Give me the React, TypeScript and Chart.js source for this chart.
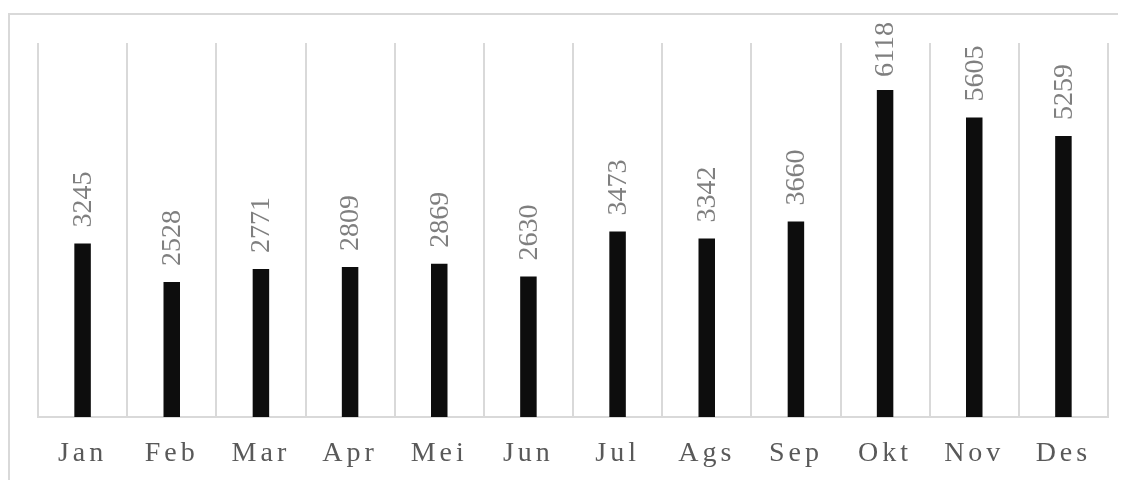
import React, { useEffect, useRef } from "react";
import { Chart, registerables } from "chart.js";

Chart.register(...registerables);

const months = ["Jan", "Feb", "Mar", "Apr", "Mei", "Jun", "Jul", "Ags", "Sep", "Okt", "Nov", "Des"];
const values = [3245, 2528, 2771, 2809, 2869, 2630, 3473, 3342, 3660, 6118, 5605, 5259];
const yMax = 7000;

const FONT = "'Liberation Serif', 'Times New Roman', serif";

const frame = {
  id: "frame",
  beforeDraw(chart: any) {
    const ctx = chart.ctx;
    ctx.save();
    ctx.strokeStyle = "#d9d9d9";
    ctx.lineWidth = 2;
    ctx.beginPath();
    ctx.moveTo(0, 6);
    ctx.lineTo(chart.width, 6);
    ctx.moveTo(1, 6);
    ctx.lineTo(1, chart.height);
    ctx.stroke();
    ctx.restore();
    ctx.letterSpacing = "4px";
  },
  beforeDatasetsDraw(chart: any) {
    chart.ctx.letterSpacing = "0px";
  },
  afterDatasetsDraw(chart: any) {
    const ctx = chart.ctx;
    const meta = chart.getDatasetMeta(0);
    ctx.save();
    ctx.letterSpacing = "0px";
    ctx.font = `28px ${FONT}`;
    ctx.fillStyle = "#7f7f7f";
    ctx.textAlign = "left";
    ctx.textBaseline = "middle";
    meta.data.forEach((bar: any, i: number) => {
      const txt = String(values[i]);
      const w = ctx.measureText(txt).width;
      let y = bar.y - 16;
      if (y - w < 14) y = 14 + w;
      ctx.save();
      ctx.translate(bar.x + 1, y);
      ctx.rotate(-Math.PI / 2);
      ctx.fillText(txt, 0, 0);
      ctx.restore();
    });
    ctx.restore();
  },
};

export default function App() {
  const ref = useRef<HTMLCanvasElement>(null);
  useEffect(() => {
    if (!ref.current) return;
    const chart = new Chart(ref.current, {
      type: "bar",
      data: {
        labels: months,
        datasets: [
          {
            data: values,
            backgroundColor: "#0d0d0d",
            barPercentage: 0.185,
            categoryPercentage: 1,
          },
        ],
      },
      options: {
        responsive: false,
        animation: false,
        layout: { padding: { left: 30, right: 18, top: 35, bottom: 0 } },
        plugins: { legend: { display: false }, tooltip: { enabled: false } },
        scales: {
          x: {
            grid: { offset: true, color: "#d9d9d9", lineWidth: 2, drawTicks: false },
            border: { display: true, color: "#d9d9d9", width: 2 },
            ticks: {
              color: "#595959",
              font: { family: FONT, size: 28 },
              padding: 20,
              maxRotation: 0,
              autoSkip: false,
            },
            afterFit(scale: any) {
              scale.height = 63;
            },
          },
          y: { display: false, min: 0, max: yMax },
        },
      },
      plugins: [frame],
    });
    return () => chart.destroy();
  }, []);
  return <canvas ref={ref} width={1118} height={472} style={{ display: "block" }} />;
}
